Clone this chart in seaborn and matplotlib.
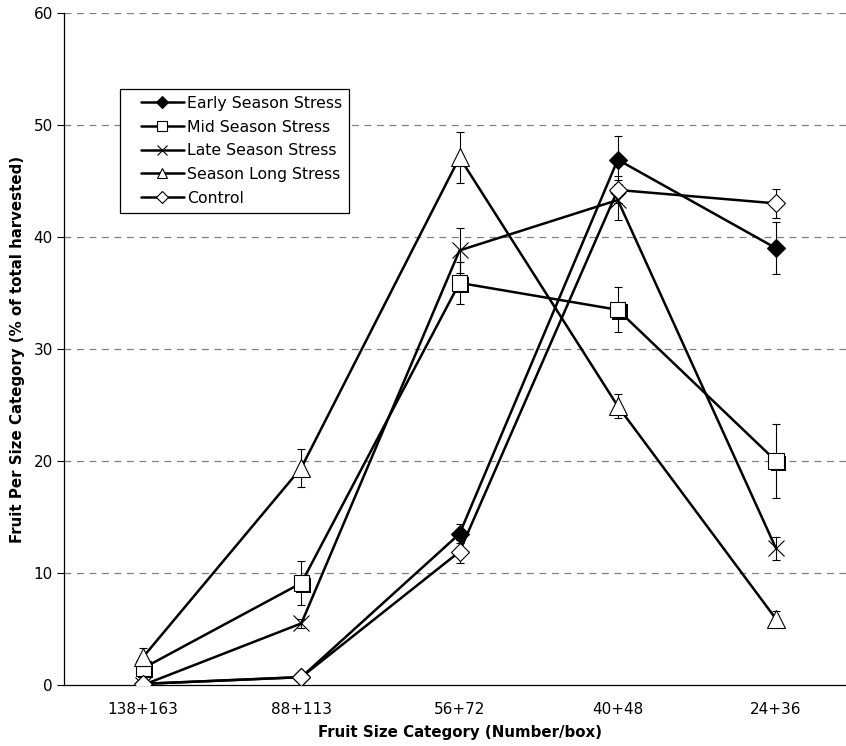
import numpy as np
import pandas as pd
import seaborn as sns
import matplotlib.pyplot as plt
import matplotlib.patheffects as pe
from matplotlib.lines import Line2D
from matplotlib.legend_handler import HandlerLine2D

sizes = ['138+163', '88+113', '56+72', '40+48', '24+36']

early = [0.1, 0.7, 13.5, 46.9, 39.0]
early_err = [0.2, 0.3, 0.85, 2.15, 2.3]
mid = [1.5, 9.1, 35.9, 33.5, 20.0]
mid_err = [0.6, 2.0, 1.9, 2.0, 3.3]
late = [0.0, 5.5, 38.8, 43.3, 12.2]
late_err = [0.2, 0.4, 2.0, 1.8, 1.05]
long_ = [2.5, 19.4, 47.1, 24.9, 5.9]
long_err = [0.8, 1.7, 2.3, 1.05, 0.7]
control = [0.1, 0.7, 11.9, 44.2, 43.0]
control_err = [0.1, 0.2, 1.05, 1.2, 1.3]

series = ['Early Season Stress', 'Mid Season Stress', 'Late Season Stress',
          'Season Long Stress', 'Control']
values = [early, mid, late, long_, control]
errors = [early_err, mid_err, late_err, long_err, control_err]

styles = {
    'Early Season Stress': dict(marker='D', ms=9.5, mfc='black', mec='black', mew=0.8),
    'Mid Season Stress': dict(marker='s', ms=11, mfc='white', mec='black', mew=0.8),
    'Late Season Stress': dict(marker='x', ms=12, mfc='none', mec='black', mew=0.8),
    'Season Long Stress': dict(marker='^', ms=12.5, mfc='white', mec='black', mew=0.8),
    'Control': dict(marker='D', ms=9.5, mfc='white', mec='black', mew=0.8),
}

rows = []
for name, vals, errs in zip(series, values, errors):
    for i, (v, e) in enumerate(zip(vals, errs)):
        rows.append({'series': name, 'pos': i, 'size': sizes[i], 'value': v, 'err': e})
df = pd.DataFrame(rows)

sns.set_style('white')
plt.rcParams['font.family'] = ['DejaVu Sans']
plt.rcParams['text.color'] = 'black'
plt.rcParams['axes.labelcolor'] = 'black'
plt.rcParams['xtick.color'] = 'black'
plt.rcParams['ytick.color'] = 'black'

fig = plt.figure(figsize=(8.46, 7.46), dpi=100)
ax = fig.add_axes([0.0757, 0.0818, 0.935, 0.9008])

handles = []
for k, name in enumerate(series):
    d = df[df['series'] == name]
    st = styles[name]
    sns.lineplot(data=d, x='pos', y='value', color='black', lw=1.8,
                 ax=ax, legend=False, zorder=3 + k)
    ax.errorbar(d['pos'], d['value'], yerr=d['err'], fmt='none', ecolor='black',
                elinewidth=0.8, capsize=3, capthick=0.8, zorder=3 + k)
    mk = ax.plot(d['pos'], d['value'], linestyle='none', zorder=3.5 + k, **st)[0]
    if name == 'Mid Season Stress':
        mk.set_path_effects([pe.SimplePatchShadow(offset=(1.6, -1.6), shadow_rgbFace='black',
                                                  alpha=1.0), pe.Normal()])
    h = Line2D([], [], color='black', lw=1.8, marker=st['marker'], ms=st['ms'] * 0.6,
               mfc=st['mfc'], mec='black', mew=0.8)
    handles.append(h)

ax.set_xlim(-0.5, 4.5)
ax.set_ylim(0, 60)
ax.set_yticks(np.arange(0, 61, 10))
ax.set_xticks(range(len(sizes)))
ax.set_xticklabels(sizes)
ax.set_xticks(np.arange(-0.5, 4.6, 1), minor=True)
ax.tick_params(axis='x', which='major', length=0, pad=12, labelsize=11)
ax.tick_params(axis='x', which='minor', length=5, width=0.8, color='black', direction='out')
ax.tick_params(axis='y', length=5, width=0.8, color='black', direction='out', labelsize=11, pad=3)
ax.tick_params(left=True, bottom=True)

for y in range(10, 61, 10):
    ax.axhline(y, color='#808080', lw=0.9, linestyle=(0, (5.5, 4.5)), zorder=1)

for s in ['top', 'right']:
    ax.spines[s].set_visible(False)
for s in ['left', 'bottom']:
    ax.spines[s].set_color('black')
    ax.spines[s].set_linewidth(0.9)

ax.set_xlabel('Fruit Size Category (Number/box)', fontsize=10.8, fontweight='bold', labelpad=6)
ax.set_ylabel('Fruit Per Size Category (% of total harvested)', fontsize=10.8,
              fontweight='bold', labelpad=6)

leg = ax.legend(handles, series, loc='upper left', bbox_to_anchor=(0.0708, 0.887),
                borderaxespad=0, fontsize=11.3, frameon=True, fancybox=False,
                edgecolor='black', framealpha=1, handlelength=3.6, handletextpad=0.2,
                labelspacing=0.55, borderpad=0.45,
                handler_map={Line2D: HandlerLine2D(xpad=0.9)})
leg.get_frame().set_linewidth(0.9)
leg.set_zorder(20)

fig.savefig('out.png', dpi=100)
